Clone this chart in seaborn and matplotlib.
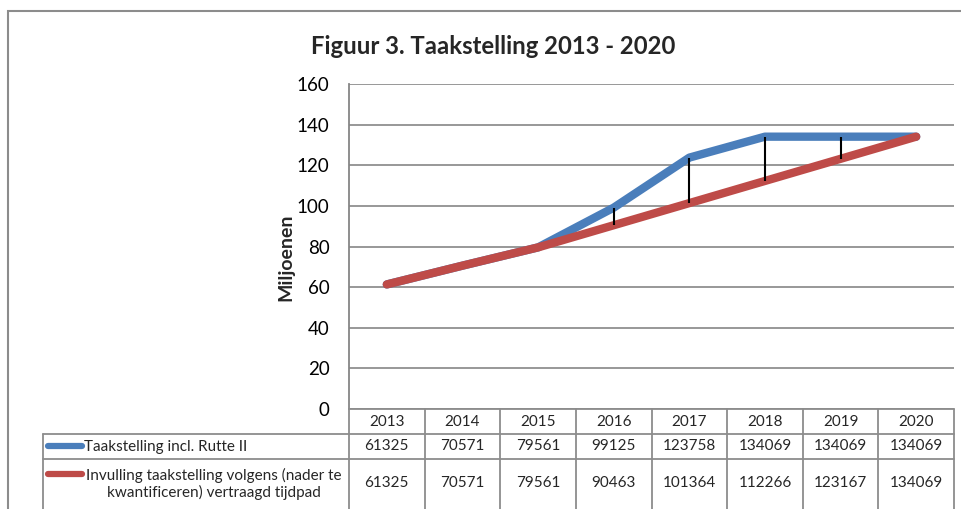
import pandas as pd
import seaborn as sns
import matplotlib.pyplot as plt
from matplotlib.lines import Line2D
from matplotlib.patches import Rectangle
from matplotlib.transforms import blended_transform_factory

# data (x 1000 euro)
years = ['2013', '2014', '2015', '2016', '2017', '2018', '2019', '2020']
taakstelling = [61325, 70571, 79561, 99125, 123758, 134069, 134069, 134069]
invulling = [61325, 70571, 79561, 90463, 101364, 112266, 123167, 134069]
series_names = ['Taakstelling incl. Rutte II',
                'Invulling taakstelling volgens (nader te\nkwantificeren) vertraagd tijdpad']
colors = ['#4A7EBB', '#BE4B48']

W, H = 962, 509
sns.set_theme(style='white')
plt.rcParams['font.family'] = ['Lato', 'DejaVu Sans']

df = pd.DataFrame({
    'pos': list(range(len(years))) * 2,
    'value': [v / 1000 for v in taakstelling + invulling],
    'series': [series_names[0]] * len(years) + [series_names[1]] * len(years),
})

fig = plt.figure(figsize=(W / 100, H / 100), dpi=100)
# plot area in pixels: x 349..954, y 84..409
ax = fig.add_axes([349 / W, 1 - 409 / H, (954 - 349) / W, (409 - 84) / H])

sns.lineplot(data=df, x='pos', y='value', hue='series', hue_order=series_names,
             palette=colors, linewidth=6, legend=False, sort=False, ax=ax, zorder=3)
for ln in ax.get_lines():
    ln.set_solid_capstyle('round')
    ln.set_solid_joinstyle('round')

# high-low lines
for i, (a, b) in enumerate(zip(taakstelling, invulling)):
    if a != b:
        ax.vlines(i, b / 1000, a / 1000, color='black', linewidth=1.5, zorder=4)

ax.set_xlim(-0.5, len(years) - 0.5)
ax.set_ylim(0, 160)
ax.set_yticks(range(0, 161, 20))
ax.set_xticks([])
ax.set_xlabel('')
ax.set_ylabel('')
ax.tick_params(axis='y', length=0, pad=14, labelsize=13.5, colors='black')
ax.grid(axis='y', color='#868686', linewidth=1.2)
ax.set_axisbelow(True)
for side in ['top', 'right', 'bottom']:
    ax.spines[side].set_visible(False)
ax.spines['left'].set_color('#868686')
ax.spines['left'].set_linewidth(1.3)

# title and y label
fig.text(493 / W, 1 - 46 / H, 'Figuur 3. Taakstelling 2013 - 2020', ha='center', va='center',
         fontsize=17.2, fontweight='bold')
fig.text(286 / W, 1 - 257 / H, 'Miljoenen', ha='center', va='center', rotation=90,
         fontsize=14, fontweight='bold')

# outer chart border
fig.add_artist(Rectangle((8 / W, -0.1), 1.2, 1 - 11 / H + 0.1, transform=fig.transFigure,
                         fill=False, edgecolor='#8C8C8C', linewidth=1.5))

# data table below the plot
fy = lambda y: 1 - y / H
tr = blended_transform_factory(ax.transData, fig.transFigure)
tf = fig.transFigure
gc = '#8C8C8C'
n = len(years)
# horizontal lines
fig.add_artist(Line2D([-0.5, n - 0.5], [fy(409)] * 2, transform=tr, color=gc, lw=1.3))
for y in [434, 459]:
    fig.add_artist(Line2D([43 / W, 954 / W], [fy(y)] * 2, transform=tf, color=gc, lw=1.3))
# vertical lines
fig.add_artist(Line2D([43 / W] * 2, [fy(434), fy(515)], transform=tf, color=gc, lw=1.3))
for i in range(n + 1):
    fig.add_artist(Line2D([i - 0.5] * 2, [fy(409), fy(515)], transform=tr, color=gc, lw=1.3))

tsize = 11
for i, yr in enumerate(years):
    fig.text(i, fy(421.5), yr, transform=tr, ha='center', va='center', fontsize=tsize)
    fig.text(i, fy(446.5), str(taakstelling[i]), transform=tr, ha='center', va='center', fontsize=tsize)
    fig.text(i, fy(483), str(invulling[i]), transform=tr, ha='center', va='center', fontsize=tsize)

# row headers with legend keys
fig.add_artist(Line2D([48 / W, 82 / W], [fy(446)] * 2, transform=tf, color=colors[0],
                      lw=4.5, solid_capstyle='round'))
fig.add_artist(Line2D([48 / W, 82 / W], [fy(474)] * 2, transform=tf, color=colors[1],
                      lw=4.5, solid_capstyle='round'))
fig.text(84 / W, fy(446.5), series_names[0], ha='left', va='center', fontsize=tsize)
fig.text(214 / W, fy(484), series_names[1], ha='center', va='center', fontsize=tsize,
         multialignment='center', linespacing=1.2)

fig.savefig('out.png', dpi=100)
